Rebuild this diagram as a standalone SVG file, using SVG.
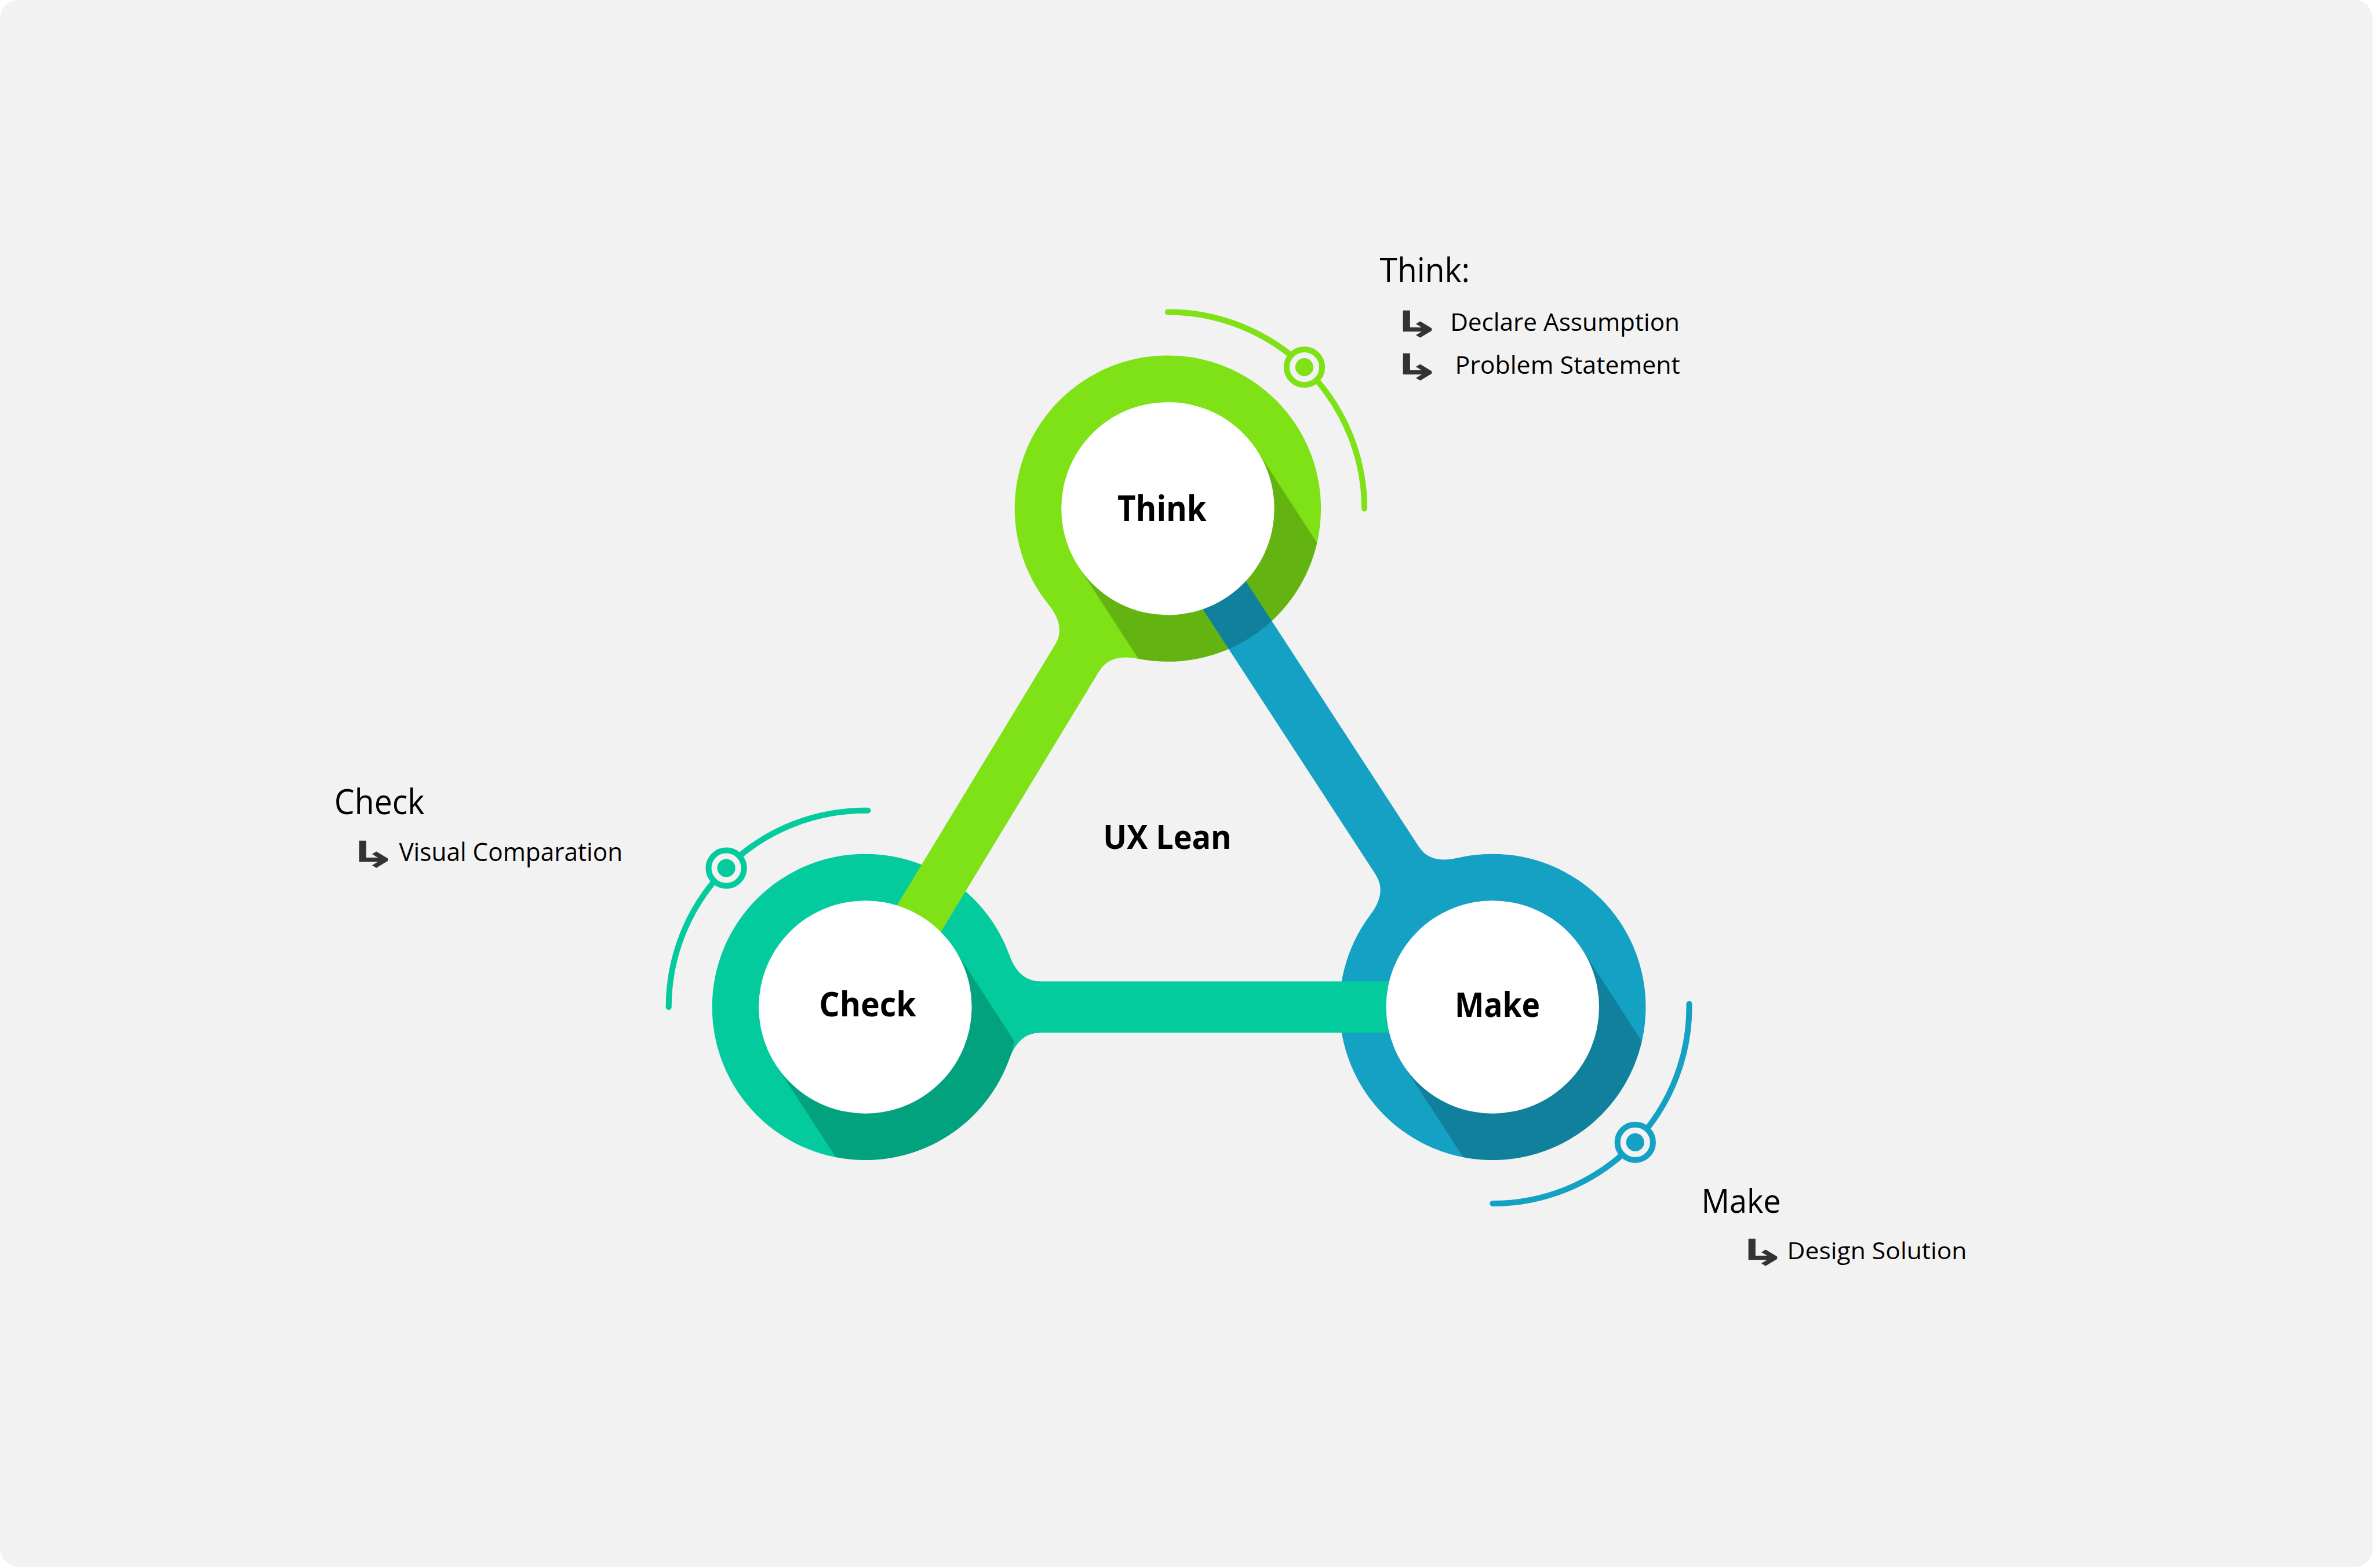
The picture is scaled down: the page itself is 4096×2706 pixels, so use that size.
<svg xmlns="http://www.w3.org/2000/svg" width="4096" height="2706" viewBox="0 0 4096 2706">
<defs>
<style>
.lbl{font-family:"Open Sans","Noto Sans","Liberation Sans",sans-serif;font-weight:700;fill:#000;text-anchor:middle}
.side{font-family:"Open Sans","Noto Sans","Liberation Sans",sans-serif;font-weight:400;fill:#000}
.arr{font-family:"DejaVu Sans",sans-serif;font-weight:700;fill:#333}
.shadow{fill:#000;fill-opacity:0.2}
.arc{fill:none;stroke-width:11;stroke-linecap:round}
.green{fill:#7ee216}
.teal{fill:#04cb9e}
.blue{fill:#15a1c4}
</style>
<clipPath id="ringclip" clipPathUnits="userSpaceOnUse"><circle cx="0" cy="0" r="289"/></clipPath>
<path id="neck" d="M0 0 L271.7 -98.5 Q289.8 -48.5 330 -48.5 L330 48.5 Q289.8 48.5 271.7 98.5 Z"/>
</defs>
<rect width="4096" height="2706" fill="#ffffff"/>
<g transform="scale(0.9142)">
<rect x="0" y="0" width="4478" height="2958" rx="35" fill="#f2f2f2"/>

<g id="rings">
  <g id="think-ring" class="green" transform="translate(2204 960)">
    <circle r="289"/>
    <use href="#neck" transform="rotate(121.25)"/>
  </g>
  <g id="check-ring" class="teal" transform="translate(1633 1901)">
    <circle r="289"/>
    <use href="#neck"/>
  </g>
  <g id="make-ring" class="blue" transform="translate(2817 1901)">
    <circle r="289"/>
    <use href="#neck" transform="rotate(-123.08)"/>
  </g>
</g>

<g id="connectors">
  <rect id="think-check" class="green" x="0" y="-48.5" width="1100.7" height="97" transform="translate(2204 960) rotate(121.25)"/>
  <rect id="make-think" class="blue" x="0" y="-48.5" width="1123.1" height="97" transform="translate(2817 1901) rotate(-123.08)"/>
  <rect id="check-make" class="teal" x="0" y="-48.5" width="1184" height="97" transform="translate(1633 1901)"/>
</g>

<g id="node-think" transform="translate(2204 960)">
  <rect class="shadow" x="0" y="-201" width="320" height="402" transform="rotate(57)" clip-path="url(#ringclip)"/>
  <circle r="201" fill="#ffffff"/>
  <text class="lbl" x="-11" y="23" font-size="66" textLength="168" lengthAdjust="spacingAndGlyphs">Think</text>
  <path class="arc" stroke="#7ee216" d="M0 -371 A371 371 0 0 1 371 0"/>
  <circle cx="257.7" cy="-266.9" r="33.5" fill="#f2f2f2" stroke="#7ee216" stroke-width="11"/>
  <circle cx="257.7" cy="-266.9" r="17" fill="#7ee216"/>
</g>

<g id="node-check" transform="translate(1633 1901)">
  <rect class="shadow" x="0" y="-201" width="320" height="402" transform="rotate(57)" clip-path="url(#ringclip)"/>
  <circle r="201" fill="#ffffff"/>
  <text class="lbl" x="4.5" y="18" font-size="64" textLength="183" lengthAdjust="spacingAndGlyphs">Check</text>
  <path class="arc" stroke="#04cb9e" d="M5 -371 A371 371 0 0 0 -371 0"/>
  <circle cx="-262.3" cy="-262.3" r="33.5" fill="#f2f2f2" stroke="#04cb9e" stroke-width="11"/>
  <circle cx="-262.3" cy="-262.3" r="17" fill="#04cb9e"/>
</g>

<g id="node-make" transform="translate(2817 1901)">
  <rect class="shadow" x="0" y="-201" width="320" height="402" transform="rotate(57)" clip-path="url(#ringclip)"/>
  <circle r="201" fill="#ffffff"/>
  <text class="lbl" x="9" y="19" font-size="64" textLength="161" lengthAdjust="spacingAndGlyphs">Make</text>
  <path class="arc" stroke="#15a1c4" d="M371 -6 A371 371 0 0 1 0 371"/>
  <circle cx="269.1" cy="255.4" r="33.5" fill="#f2f2f2" stroke="#15a1c4" stroke-width="11"/>
  <circle cx="269.1" cy="255.4" r="17" fill="#15a1c4"/>
</g>

<g id="center-label">
  <text class="lbl" x="2203" y="1602" font-size="63" textLength="242" lengthAdjust="spacingAndGlyphs">UX Lean</text>
</g>

<g id="think-notes">
  <text class="side" x="2604" y="533" font-size="63" textLength="170" lengthAdjust="spacingAndGlyphs">Think:</text>
  <text class="arr" transform="translate(2626 636) scale(1.67 1)" font-size="68">↳</text>
  <text class="side" x="2737" y="625" font-size="45" textLength="433" lengthAdjust="spacingAndGlyphs">Declare Assumption</text>
  <text class="arr" transform="translate(2626 716) scale(1.67 1)" font-size="68">↳</text>
  <text class="side" x="2746" y="706" font-size="45" textLength="425" lengthAdjust="spacingAndGlyphs">Problem Statement</text>
</g>

<g id="check-notes">
  <text class="side" x="631" y="1537" font-size="66" textLength="170" lengthAdjust="spacingAndGlyphs">Check</text>
  <text class="arr" transform="translate(656 1636) scale(1.67 1)" font-size="68">↳</text>
  <text class="side" x="753" y="1626" font-size="47" textLength="422" lengthAdjust="spacingAndGlyphs">Visual Comparation</text>
</g>

<g id="make-notes">
  <text class="side" x="3211" y="2289" font-size="62" textLength="150" lengthAdjust="spacingAndGlyphs">Make</text>
  <text class="arr" transform="translate(3278 2388) scale(1.67 1)" font-size="68">↳</text>
  <text class="side" x="3373" y="2377" font-size="44" textLength="339" lengthAdjust="spacingAndGlyphs">Design Solution</text>
</g>
</g>
</svg>
